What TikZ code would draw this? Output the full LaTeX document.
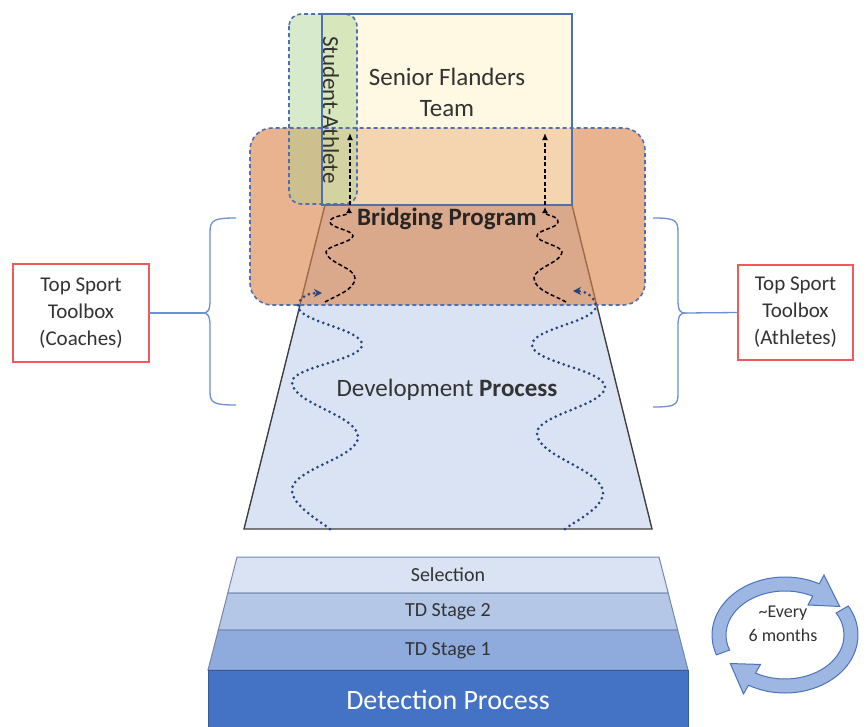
\documentclass[tikz,border=0pt]{standalone}
\usepackage{fontspec}
\setmainfont{Carlito}
\usetikzlibrary{arrows.meta,calc}
\definecolor{txt}{HTML}{333333}
\definecolor{blueline}{HTML}{4F70B0}
\definecolor{senfill}{HTML}{FFF2CC}
\definecolor{grn}{HTML}{A9D18E}
\definecolor{org}{HTML}{DB844A}
\definecolor{devfill}{HTML}{DAE3F3}
\definecolor{trapline}{HTML}{404040}
\definecolor{navy}{HTML}{26447F}
\definecolor{bracec}{HTML}{6D8FD3}
\definecolor{redbox}{HTML}{F05A5F}
\definecolor{selc}{HTML}{DAE3F3}
\definecolor{tdtwo}{HTML}{B4C7E7}
\definecolor{tdone}{HTML}{8FAADC}
\definecolor{detc}{HTML}{4472C4}
\definecolor{cycfill}{HTML}{9DB6E2}
\definecolor{cycline}{HTML}{4A72BE}
\begin{document}
\begin{tikzpicture}[x=1pt,y=-1pt,
  lbl/.style={text=txt, inner sep=0pt, align=center},
  toolbox/.style={draw=redbox, line width=1.3pt, fill=white, text=txt, align=center, inner sep=0pt,
     font=\fontsize{21}{27}\selectfont},
  bracestyle/.style={draw=bracec, line width=1.3pt},
  dashbox/.style={draw=blueline, line width=1.6pt, dash pattern=on 4pt off 3pt},
  dotwave/.style={draw=navy, line width=3pt, dash pattern=on 0pt off 5.4pt, line cap=round},
  dashwave/.style={draw=black, line width=1.5pt, dash pattern=on 4pt off 2.5pt},
  layer/.style={draw=tdone!80!black, line width=1pt},
  cyc/.style={fill=cycfill, draw=cycline, line width=1pt}
]
\useasboundingbox (0,0) rectangle (867,726);

% development trapezoid
\coordinate (tTL) at (325,205);
\coordinate (tTR) at (572,205);
\coordinate (tBR) at (652,529);
\coordinate (tBL) at (244,529);
\filldraw[fill=devfill, draw=trapline, line width=1.4pt] (tTL) -- (tTR) -- (tBR) -- (tBL) -- cycle;

% fills
\fill[org, opacity=0.62, rounded corners=22pt] (250,128) rectangle (645,305);
\fill[senfill, opacity=0.55] (322,14) rectangle (572,205);
\fill[grn, opacity=0.45, rounded corners=12pt] (289,14) rectangle (357,204);

% borders
\draw[blueline, line width=1.1pt] (322,14) rectangle (572,205);
\draw[dashbox, rounded corners=12pt] (289,14) rectangle (357,204);
\draw[dashbox, rounded corners=22pt] (250,128) rectangle (645,305);

% texts
\node[lbl, font=\fontsize{25}{31}\selectfont] (senior) at (447,92) {Senior Flanders\\Team};
\node[lbl, rotate=-90, font=\fontsize{23}{28}\selectfont] (student) at (331,110) {Student-Athlete};
\node[lbl, text=black!85, font=\bfseries\fontsize{25}{30}\selectfont] (bridge) at (447,219) {Bridging Program};
\node[lbl, font=\fontsize{25}{30}\selectfont] (dev) at (447,390) {Development \textbf{Process}};

% dotted waves
\coordinate (ldEnd) at (322,293);
\coordinate (rdEnd) at (573,291);
\draw[dotwave, -{Stealth[length=8pt,width=8pt]}] (330,529)
  .. controls (318,520) and (292,505) .. (292,490)
  .. controls (292,469) and (358,458) .. (358,437)
  .. controls (358,415) and (292,404) .. (292,382)
  .. controls (292,367) and (362,360) .. (362,345)
  .. controls (362,328) and (296,322) .. (298,305)
  .. controls (300,297) and (308,293) .. (ldEnd);
\draw[dotwave, -{Stealth[length=8pt,width=8pt]}] (565,529)
  .. controls (577,520) and (603,508) .. (603,493)
  .. controls (603,469) and (537,457) .. (537,433)
  .. controls (537,415) and (605,405) .. (605,387)
  .. controls (605,370) and (532,362) .. (532,345)
  .. controls (532,328) and (598,322) .. (596,305)
  .. controls (594,297) and (586,291) .. (rdEnd);

% dashed waves
\coordinate (lwTop) at (349,207);
\coordinate (rwTop) at (545,207);
\draw[dashwave, -{Latex[length=6pt,width=6pt]}] (325,302)
  .. controls (335,296) and (355,290) .. (355,278)
  .. controls (355,268) and (326,262) .. (326,252)
  .. controls (326,246) and (353,242) .. (353,236)
  .. controls (353,230) and (330,228) .. (330,222)
  .. controls (330,215) and (349,216) .. (lwTop);
\draw[dashwave, -{Latex[length=6pt,width=6pt]}] (566,302)
  .. controls (556,296) and (534,290) .. (534,278)
  .. controls (534,268) and (562,262) .. (562,252)
  .. controls (562,246) and (537,242) .. (537,236)
  .. controls (537,230) and (558,228) .. (558,222)
  .. controls (558,215) and (545,216) .. (rwTop);

% vertical dashed arrows
\coordinate (lvB) at (350,205);
\coordinate (lvT) at (350,133);
\coordinate (rvB) at (545,205);
\coordinate (rvT) at (545,133);
\draw[dashwave, -{Latex[length=7pt,width=6pt]}] (lvB) -- (lvT);
\draw[dashwave, -{Latex[length=7pt,width=6pt]}] (rvB) -- (rvT);

% tool boxes and braces
\node[toolbox, minimum width=136pt, minimum height=98pt] (lbox) at (81,313) {Top Sport\\Toolbox\\(Coaches)};
\node[toolbox, minimum width=115pt, minimum height=95pt] (rbox) at (795.5,312.5) {Top Sport\\Toolbox\\(Athletes)};
\coordinate (lbt) at (203,313);
\coordinate (rbt) at (685,313);
\draw[bracestyle] (236,218) .. controls (214,218) and (210,220) .. (210,232) -- (210,300)
  .. controls (210,310) and (208,313) .. (lbt)
  .. controls (208,313) and (210,316) .. (210,326) -- (210,392)
  .. controls (210,403) and (214,405) .. (236,405);
\draw[bracestyle] (653,218) .. controls (675,218) and (678,220) .. (678,232) -- (678,300)
  .. controls (678,310) and (680,313) .. (rbt)
  .. controls (680,313) and (678,316) .. (678,326) -- (678,394)
  .. controls (678,405) and (675,407) .. (653,407);
\draw[bracestyle] (lbox.east) -- (lbt);
\draw[bracestyle] (rbt) -- (rbox.west);

% stacked layers
\filldraw[layer, fill=selc] (237,557) -- (659,557) -- (668.2,593) -- (227.8,593) -- cycle;
\filldraw[layer, fill=tdtwo] (227.8,593) -- (668.2,593) -- (677.7,630) -- (218.3,630) -- cycle;
\filldraw[layer, fill=tdone] (218.3,630) -- (677.7,630) -- (688,670) -- (208,670) -- cycle;
\filldraw[fill=detc, draw=detc!80!black, line width=1pt] (208,670) rectangle (688,728);
\node[lbl, font=\fontsize{20}{24}\selectfont] (sel) at (448,575) {Selection};
\node[lbl, font=\fontsize{20}{24}\selectfont] (td2) at (448,612) {TD Stage 2};
\node[lbl, font=\fontsize{20}{24}\selectfont] (td1) at (448,651) {TD Stage 1};
\node[lbl, text=white, font=\fontsize{28}{32}\selectfont] (det) at (448,700) {Detection Process};

% cycle arrows
\coordinate (C) at (785,635);
\filldraw[cyc] ($(C)+(160:73 and 58)$) arc[start angle=160, end angle=298, x radius=73, y radius=58]
  -- ($(C)+(298:83 and 68)$) -- ($(C)+(326:66 and 51)$) -- ($(C)+(298:49 and 34)$)
  -- ($(C)+(298:59 and 44)$) arc[start angle=298, end angle=160, x radius=59, y radius=44] -- cycle;
\filldraw[cyc] ($(C)+(330:73 and 58)$) arc[start angle=330, end angle=480, x radius=73, y radius=58]
  -- ($(C)+(480:83 and 68)$) -- ($(C)+(506:66 and 51)$) -- ($(C)+(480:49 and 34)$)
  -- ($(C)+(480:59 and 44)$) arc[start angle=480, end angle=330, x radius=59, y radius=44] -- cycle;
\node[lbl, font=\fontsize{18}{24}\selectfont] (every) at (783,624) {\textasciitilde Every\\6 months};
\end{tikzpicture}
\end{document}
